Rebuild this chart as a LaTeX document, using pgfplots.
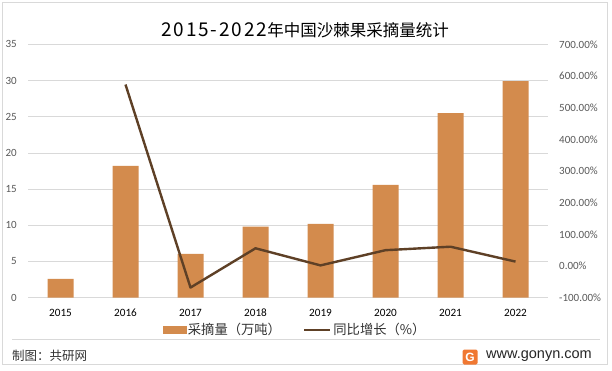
\documentclass[border=0pt]{standalone}
\usepackage{pgfplots}
\pgfplotsset{compat=1.18}
\usepackage{fontspec}
\setmainfont{Carlito}
\newfontfamily\cjk{Noto Sans CJK SC}
\newfontfamily\cjkdig[LetterSpace=10]{Noto Sans CJK SC}
\newfontfamily\arial{Liberation Sans}
\definecolor{barc}{RGB}{211,139,77}
\definecolor{linec}{RGB}{94,64,38}
\definecolor{gridc}{RGB}{217,217,217}
\definecolor{tickc}{RGB}{89,89,89}
\definecolor{logoc}{RGB}{240,120,50}
\begin{document}
\begin{tikzpicture}[x=1pt,y=1pt]
\useasboundingbox (0,0) rectangle (612,370);
\fill[white] (0,0) rectangle (612,370);
\draw[gridc, line width=0.8pt] (2,6) rectangle (607,368);
% title
\node[text=black, inner sep=0pt] at (305,340) {{\cjkdig\fontsize{19}{20}\selectfont 2015-2022}{\cjk\fontsize{16.5}{18}\selectfont 年中国沙棘果采摘量统计}};
% footer
\draw[gridc, line width=0.8pt] (12,31) -- (600,31);
\node[anchor=west, font=\cjk\fontsize{12.5}{14}\selectfont, text=black!80, inner sep=0pt] at (12,14) {制图：共研网};
\node[anchor=west, font=\arial\fontsize{14.5}{16}\selectfont, text=black!85, inner sep=0pt] at (486,14) {www.gonyn.com};
\node[fill=logoc, rounded corners=1.5pt, minimum width=15pt, minimum height=15pt, inner sep=0pt, text=white, font=\arial\bfseries\fontsize{12}{12}\selectfont] at (470,13) {G};
\begin{axis}[
  at={(28pt,72.3pt)}, anchor=south west, scale only axis,
  width=520pt, height=253.4pt,
  xmin=-0.5, xmax=7.5, ymin=0, ymax=35,
  xtick={0,1,2,3,4,5,6,7},
  xticklabels={2015,2016,2017,2018,2019,2020,2021,2022},
  ytick={0,5,10,15,20,25,30,35},
  ymajorgrids, grid style={gridc, line width=0.8pt},
  axis x line*=bottom, axis y line*=left,
  x axis line style={gridc, line width=0.8pt, -},
  y axis line style={draw=none},
  major tick length=0pt, tick style={draw=none},
  /pgf/number format/assume math mode=true,
  yticklabel style={font=\fontsize{11}{12}\selectfont, text=tickc, anchor=east, inner sep=0pt, xshift=-11pt},
  xticklabel style={font=\fontsize{11.2}{12}\selectfont, text=black, anchor=center, inner sep=0pt, yshift=-15.3pt},
  clip=false,
]
\addplot[ybar, bar width=26pt, fill=barc, draw=none] coordinates {
 (0,2.6) (1,18.2) (2,6.05) (3,9.8) (4,10.2) (5,15.6) (6,25.5) (7,29.9)};
\end{axis}
\begin{axis}[
  at={(28pt,72.3pt)}, anchor=south west, scale only axis,
  width=520pt, height=253.4pt,
  xmin=-0.5, xmax=7.5, ymin=-100, ymax=700,
  ytick={-100,0,100,200,300,400,500,600,700},
  axis x line=none, axis y line*=right,
  y axis line style={draw=none},
  major tick length=0pt, tick style={draw=none},
  /pgf/number format/.cd, fixed, fixed zerofill, precision=2, assume math mode=true, /pgfplots/.cd,
  yticklabel={\pgfmathprintnumber{\tick}\%},
  yticklabel style={font=\fontsize{11}{12}\selectfont, text=tickc, anchor=west, inner sep=0pt, xshift=11pt},
  legend style={at={(0.5135,-0.1275)}, anchor=center, draw=none, fill=none,
    font=\cjk\fontsize{13.3}{15}\selectfont, text=black!80,
    legend columns=2, inner sep=0pt,
    /tikz/every even column/.append style={column sep=20pt}},
  legend cell align=left,
  clip=false,
]
\addlegendimage{legend image code/.code={\fill[barc] (0pt,-3.5pt) rectangle (23pt,3.5pt);}}
\addlegendentry{采摘量（万吨）}
\addplot[linec, line width=2.4pt, line join=round, legend image code/.code={\draw[linec, line width=2.4pt] (0pt,0pt) -- (26pt,0pt);}] coordinates {
 (1,573) (2,-68) (3,56) (4,2) (5,50) (6,61) (7,14)};
\addlegendentry{同比增长（\%）}
\end{axis}
\end{tikzpicture}
\end{document}
